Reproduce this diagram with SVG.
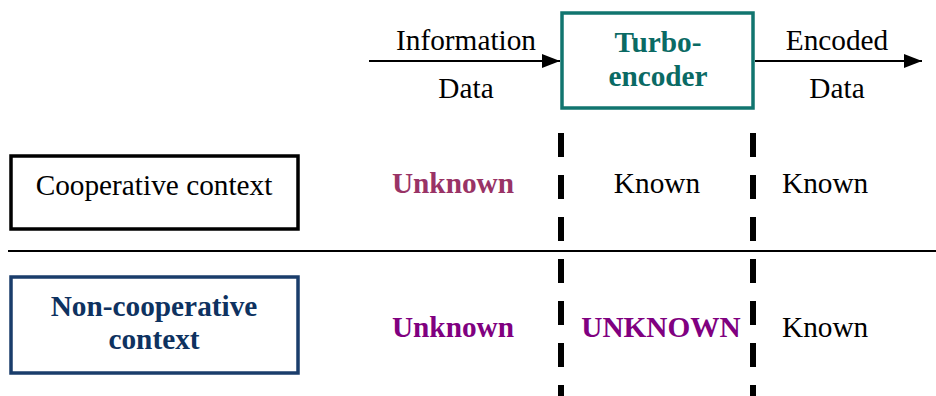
<svg xmlns="http://www.w3.org/2000/svg" width="936" height="396" viewBox="0 0 936 396">
<style>
text{font-family:"Liberation Serif","Times New Roman",serif;font-size:29.3px;fill:#000}
.b{font-weight:bold}
.mid{text-anchor:middle}
.dash{stroke:#000;stroke-width:6;stroke-dasharray:24 18;fill:none}
.ln{stroke:#000;stroke-width:2;fill:none}
</style>
<defs>
<marker id="ah" viewBox="0 0 10 10" refX="10" refY="5" markerWidth="18" markerHeight="14" markerUnits="userSpaceOnUse" orient="auto" preserveAspectRatio="none">
<path d="M0,0 L10,5 L0,10 Z" fill="#000"/>
</marker>
</defs>
<g id="connectors">
<line class="ln" x1="369" y1="61" x2="560" y2="61" marker-end="url(#ah)"/>
<line class="ln" x1="755" y1="61" x2="922" y2="61" marker-end="url(#ah)"/>
<line class="ln" x1="8" y1="251" x2="936" y2="251"/>
<line class="dash" x1="561" y1="133" x2="561" y2="400"/>
<line class="dash" x1="753" y1="133" x2="753" y2="400"/>
</g>
<g id="labels-top">
<text class="mid" x="466" y="50">Information</text>
<text class="mid" x="466" y="98">Data</text>
<text class="mid" x="837" y="50">Encoded</text>
<text class="mid" x="837" y="98">Data</text>
</g>
<g id="turbo-encoder">
<rect x="562" y="13" width="191" height="95" fill="#fff" stroke="#11756f" stroke-width="3.5"/>
<text class="b mid" x="658" y="52" style="fill:#0a6a64">Turbo-</text>
<text class="b mid" x="658" y="86" style="fill:#0a6a64">encoder</text>
</g>
<g id="cooperative">
<rect x="11" y="156" width="287" height="73" fill="#fff" stroke="#000" stroke-width="3.5"/>
<text class="mid" x="154" y="195">Cooperative context</text>
</g>
<g id="non-cooperative">
<rect x="11" y="277" width="287" height="96" fill="#fff" stroke="#1a3d6b" stroke-width="3.5"/>
<text class="b mid" x="154" y="316" style="fill:#0e3260">Non-cooperative</text>
<text class="b mid" x="154" y="349" style="fill:#0e3260">context</text>
</g>
<g id="row-coop">
<text class="b mid" x="453" y="193" style="fill:#993366">Unknown</text>
<text class="mid" x="657" y="193">Known</text>
<text x="782" y="193">Known</text>
</g>
<g id="row-noncoop">
<text class="b mid" x="453" y="337" style="fill:#800080">Unknown</text>
<text class="b mid" x="661" y="337" style="fill:#800080">UNKNOWN</text>
<text x="782" y="337">Known</text>
</g>
</svg>
